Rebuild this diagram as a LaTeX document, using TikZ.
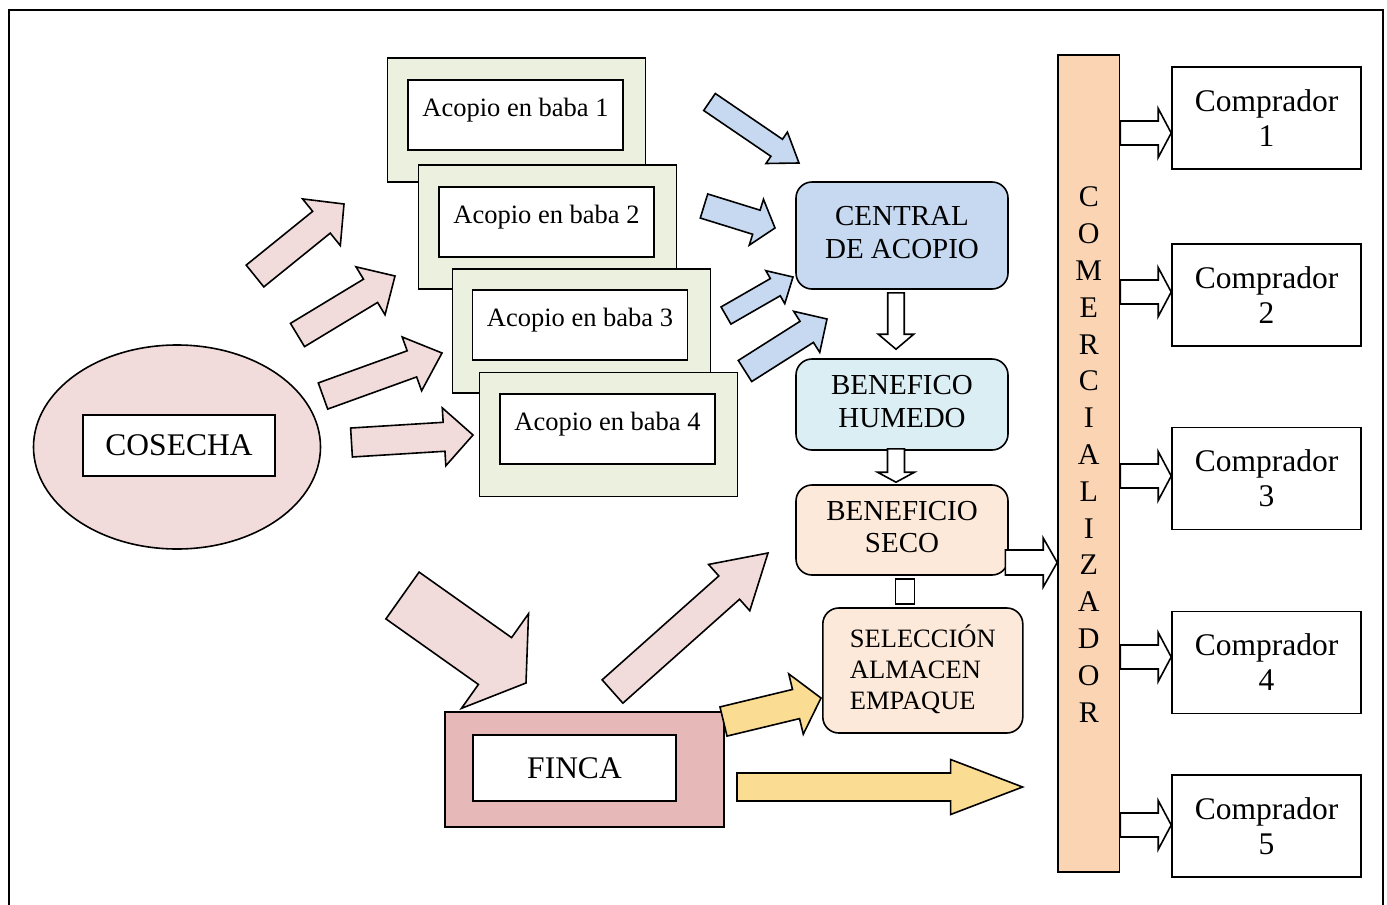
\documentclass[tikz,border=0pt]{standalone}
\usepackage{fontspec}
\setmainfont{Liberation Serif}
\usetikzlibrary{calc,shapes.geometric}

\definecolor{cosechapink}{HTML}{F2DCDB}
\definecolor{fincapink}{HTML}{E6B8B7}
\definecolor{acopiogreen}{HTML}{EBF1DE}
\definecolor{centralblue}{HTML}{C6D9F1}
\definecolor{humedocyan}{HTML}{DBEEF4}
\definecolor{secopeach}{HTML}{FDE9D9}
\definecolor{barpeach}{HTML}{FBD4B4}
\definecolor{arrowyellow}{HTML}{FADC92}

% block arrow: style, tail, tip, shaft half width, head half width, head length
\newcommand{\fatarrow}[6]{%
  \coordinate (fa base) at ($(#3)!#6!(#2)$);
  \draw[#1] ($(#2)!#4!90:(#3)$) -- ($(fa base)!#4!90:(#3)$)
    -- ($(fa base)!#5!90:(#3)$) -- (#3) -- ($(fa base)!#5!-90:(#3)$)
    -- ($(fa base)!#4!-90:(#3)$) -- ($(#2)!#4!-90:(#3)$) -- cycle;
}

\begin{document}
\begin{tikzpicture}[x=1pt, y=-1pt,
    outline/.style={draw=black, line width=1.6pt},
    bigtext/.style={font=\fontsize{31.5}{35}\selectfont},
    midtext/.style={font=\fontsize{29}{32.5}\selectfont},
    smalltext/.style={font=\fontsize{26.5}{31}\selectfont},
    labelbox/.style={outline, fill=white, inner sep=0pt},
    acopiobox/.style={outline, fill=acopiogreen, minimum width=258pt, minimum height=124pt},
    acopiolabel/.style={labelbox, smalltext, minimum width=215pt, minimum height=70pt, text height=12pt, text depth=10pt},
    stagebox/.style={outline, rounded corners=16pt, minimum width=212pt, align=center, midtext, text depth=6pt},
    buyerbox/.style={labelbox, bigtext, minimum width=189pt, minimum height=102pt, align=center},
    pinkarrow/.style={outline, fill=cosechapink},
    bluearrow/.style={outline, fill=centralblue},
    yellowarrow/.style={outline, fill=arrowyellow},
    hollowarrow/.style={outline, fill=white}]

    % --- FRAME ---
    \useasboundingbox (0,0) rectangle (1387,905);
    \draw[line width=1.6pt] (9,905) -- (9,10) -- (1383,10) -- (1383,905);

    % --- COSECHA ---
    \node[outline, ellipse, fill=cosechapink, minimum width=287pt, minimum height=204pt] (cosecha) at (177,447) {};
    \node[labelbox, bigtext, minimum width=192pt, minimum height=61pt] (cosechalbl) at (179,445.5) {COSECHA};

    % --- ACOPIO EN BABA ---
    \node[acopiobox] (acopio1) at (516.5,120) {};
    \node[acopiolabel] (acopio1lbl) at (515.5,115) {Acopio en baba 1};
    \node[acopiobox] (acopio2) at (547.5,227) {};
    \node[acopiolabel] (acopio2lbl) at (546.5,222) {Acopio en baba 2};
    \node[acopiobox] (acopio3) at (581.5,331) {};
    \node[acopiolabel] (acopio3lbl) at (580,325) {Acopio en baba 3};
    \node[acopiobox] (acopio4) at (608.5,434.5) {};
    \node[acopiolabel] (acopio4lbl) at (607.5,429) {Acopio en baba 4};

    % --- FINCA ---
    \node[outline, fill=fincapink, minimum width=279pt, minimum height=115pt] (finca) at (584.3,769.5) {};
    \node[labelbox, bigtext, minimum width=203pt, minimum height=66pt] (fincalbl) at (574.5,768) {FINCA};

    % --- BENEFICIO ---
    \node[stagebox, fill=centralblue, minimum height=107pt] (central) at (902,235.5) {CENTRAL\\DE ACOPIO};
    \node[stagebox, fill=humedocyan, minimum height=91pt] (humedo) at (902,404.5) {BENEFICO\\HUMEDO};
    \node[stagebox, fill=secopeach, minimum height=90pt] (seco) at (902,530) {BENEFICIO\\SECO};
    \node[stagebox, smalltext, fill=secopeach, minimum width=200pt, minimum height=125pt, align=left] (seleccion) at (922.8,670.5) {SELECCIÓN\\ALMACEN\\EMPAQUE};
    \node[labelbox, minimum width=19pt, minimum height=25pt] (link) at (905,591.5) {};

    % --- COMERCIALIZADOR ---
    \node[outline, fill=barpeach, minimum width=61.6pt, minimum height=817pt, inner sep=0pt, align=center,
          font=\fontsize{30}{36.8}\selectfont, text depth=18pt] (bar) at (1088.8,463.5)
          {C\\O\\M\\E\\R\\C\\I\\A\\L\\I\\Z\\A\\D\\O\\R};

    % --- COMPRADORES ---
    \foreach \i/\y in {1/118, 2/295, 3/478.5, 4/662.5, 5/826}
        \node[buyerbox] (buyer\i) at (1266.5,\y) {Comprador\\\i};

    % --- ARROWS: cosecha -> acopio ---
    \fatarrow{pinkarrow}{255,276}{344,204}{14pt}{30pt}{29pt}
    \fatarrow{pinkarrow}{297.5,335}{395,276}{13.6pt}{28pt}{28.6pt}
    \fatarrow{pinkarrow}{323,396}{442,353}{13.9pt}{28.6pt}{32pt}
    \fatarrow{pinkarrow}{351.5,442.5}{473,435}{14.5pt}{29pt}{29pt}

    % --- ARROWS: acopio -> central ---
    \fatarrow{bluearrow}{709.5,102}{799,163}{10.3pt}{19pt}{27pt}
    \fatarrow{bluearrow}{704,206}{775,228}{12.6pt}{24pt}{19.5pt}
    \fatarrow{bluearrow}{726,315.5}{793,277}{9.9pt}{19pt}{20.4pt}
    \fatarrow{bluearrow}{745,371}{827,319}{12.5pt}{24.3pt}{24pt}

    % --- ARROWS: cosecha -> finca -> seco ---
    \fatarrow{pinkarrow}{402.5,595.5}{526,683}{28.7pt}{58pt}{38pt}
    \fatarrow{pinkarrow}{612.5,691.5}{768,553}{15.6pt}{31pt}{52pt}

    % --- ARROWS: finca -> seleccion, finca -> comercializador ---
    \fatarrow{yellowarrow}{723.5,721.5}{821,698}{15pt}{31pt}{25.7pt}
    \fatarrow{yellowarrow}{737,787}{1022.6,787}{14pt}{27.5pt}{72pt}

    % --- HOLLOW ARROWS ---
    \coordinate (d1a) at ($(central.south)+(-6,3)$);
    \coordinate (d1b) at ($(humedo.north)+(-6,-9)$);
    \fatarrow{hollowarrow}{d1a}{d1b}{8.25pt}{17.75pt}{15pt}
    \coordinate (d2a) at ($(humedo.south)+(-6,-2)$);
    \coordinate (d2b) at ($(seco.north)+(-6,-2)$);
    \fatarrow{hollowarrow}{d2a}{d2b}{8.5pt}{18.5pt}{10pt}
    \coordinate (s1a) at ($(seco.east)+(-3.4,32.5)$);
    \coordinate (s1b) at (bar.west |- s1a);
    \fatarrow{hollowarrow}{s1a}{s1b}{12.5pt}{24.5pt}{14pt}
    \foreach \i/\dy in {1/15, 2/-3, 3/-2.5, 4/-5.5, 5/-1} {
        \coordinate (b\i a) at ($(bar.east |- buyer\i.west)+(0,\dy)$);
        \coordinate (b\i b) at ($(buyer\i.west)+(0,\dy)$);
        \fatarrow{hollowarrow}{b\i a}{b\i b}{12pt}{24.5pt}{13pt}
    }
\end{tikzpicture}
\end{document}
